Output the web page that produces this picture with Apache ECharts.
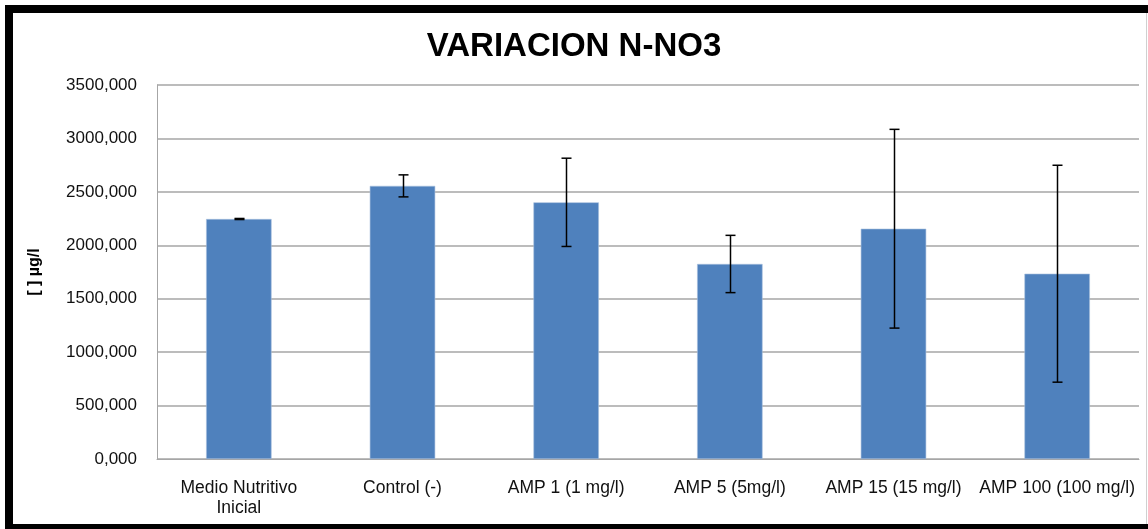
<!DOCTYPE html>
<html>
<head>
<meta charset="utf-8">
<script src="https://cdn.jsdelivr.net/npm/echarts@6/dist/echarts.min.js"></script>
<style>
html,body{margin:0;padding:0;background:#fff;}
#chart{width:1148px;height:529px;}
</style>
</head>
<body>
<div id="chart"></div>
<script>
const categories = ['Medio Nutritivo\nInicial', 'Control (-)', 'AMP 1 (1 mg/l)', 'AMP 5 (5mg/l)', 'AMP 15 (15 mg/l)', 'AMP 100 (100 mg/l)'];
const means = [2246, 2556, 2402, 1825, 2155, 1734];
const errors = [5, 103, 413, 268, 930, 1015];
const yTicks = [0, 500, 1000, 1500, 2000, 2500, 3000, 3500];

const chart = echarts.init(document.getElementById('chart'));
const font = '"Liberation Sans", Arial, sans-serif';
chart.setOption({
  animation: false,
  backgroundColor: '#fff',
  title: {
    text: 'VARIACION N-NO3',
    left: 'center',
    top: 25,
    textStyle: {fontFamily: font, fontSize: 33, fontWeight: 'bold', color: '#000'}
  },
  grid: {left: 157, right: 9, top: 85, bottom: 70},
  xAxis: {
    type: 'category',
    data: categories,
    axisTick: {show: false},
    axisLine: {lineStyle: {color: '#a6a6a6', width: 1}},
    axisLabel: {fontFamily: font, fontSize: 17.5, color: '#111', margin: 19, lineHeight: 20, interval: 0}
  },
  yAxis: {
    type: 'value',
    min: yTicks[0],
    max: yTicks[yTicks.length - 1],
    interval: 500,
    name: '[ ] µg/l',
    nameLocation: 'middle',
    nameGap: 114,
    nameTextStyle: {fontFamily: font, fontSize: 16, fontWeight: 'bold', color: '#000'},
    axisLine: {show: true, lineStyle: {color: '#a6a6a6'}},
    axisTick: {show: false},
    splitLine: {lineStyle: {color: '#a6a6a6', width: 1.5}},
    axisLabel: {fontFamily: font, fontSize: 17, color: '#111', margin: 20,
      formatter: v => v + ',000'}
  },
  series: [
    {
      type: 'bar',
      data: means,
      barWidth: '40%',
      itemStyle: {color: '#4f81bd', borderColor: '#a7c0de', borderWidth: 0.6},
      z: 2
    },
    {
      type: 'custom',
      data: means.map((m, i) => [i, m - errors[i], m + errors[i]]),
      z: 5,
      renderItem: function (params, api) {
        const x = api.value(0);
        const lo = api.coord([x, api.value(1)]);
        const hi = api.coord([x, api.value(2)]);
        const cx = Math.round(lo[0]) + 0.5;
        const w = 5;
        const style = {stroke: '#000', lineWidth: 1.5};
        return {
          type: 'group',
          children: [
            {type: 'line', shape: {x1: cx, y1: hi[1], x2: cx, y2: lo[1]}, style: style},
            {type: 'line', shape: {x1: cx - w, y1: hi[1], x2: cx + w, y2: hi[1]}, style: style},
            {type: 'line', shape: {x1: cx - w, y1: lo[1], x2: cx + w, y2: lo[1]}, style: style}
          ]
        };
      }
    }
  ],
  graphic: [
    {type: 'rect', shape: {x: 5, y: 5, width: 1143, height: 8}, style: {fill: '#000'}, silent: true},
    {type: 'rect', shape: {x: 5, y: 5, width: 8, height: 524}, style: {fill: '#000'}, silent: true},
    {type: 'rect', shape: {x: 5, y: 524, width: 1143, height: 5}, style: {fill: '#000'}, silent: true},
    {type: 'rect', shape: {x: 1146, y: 13, width: 1, height: 511}, style: {fill: '#d0d0d0'}, silent: true}
  ]
});
</script>
</body>
</html>
